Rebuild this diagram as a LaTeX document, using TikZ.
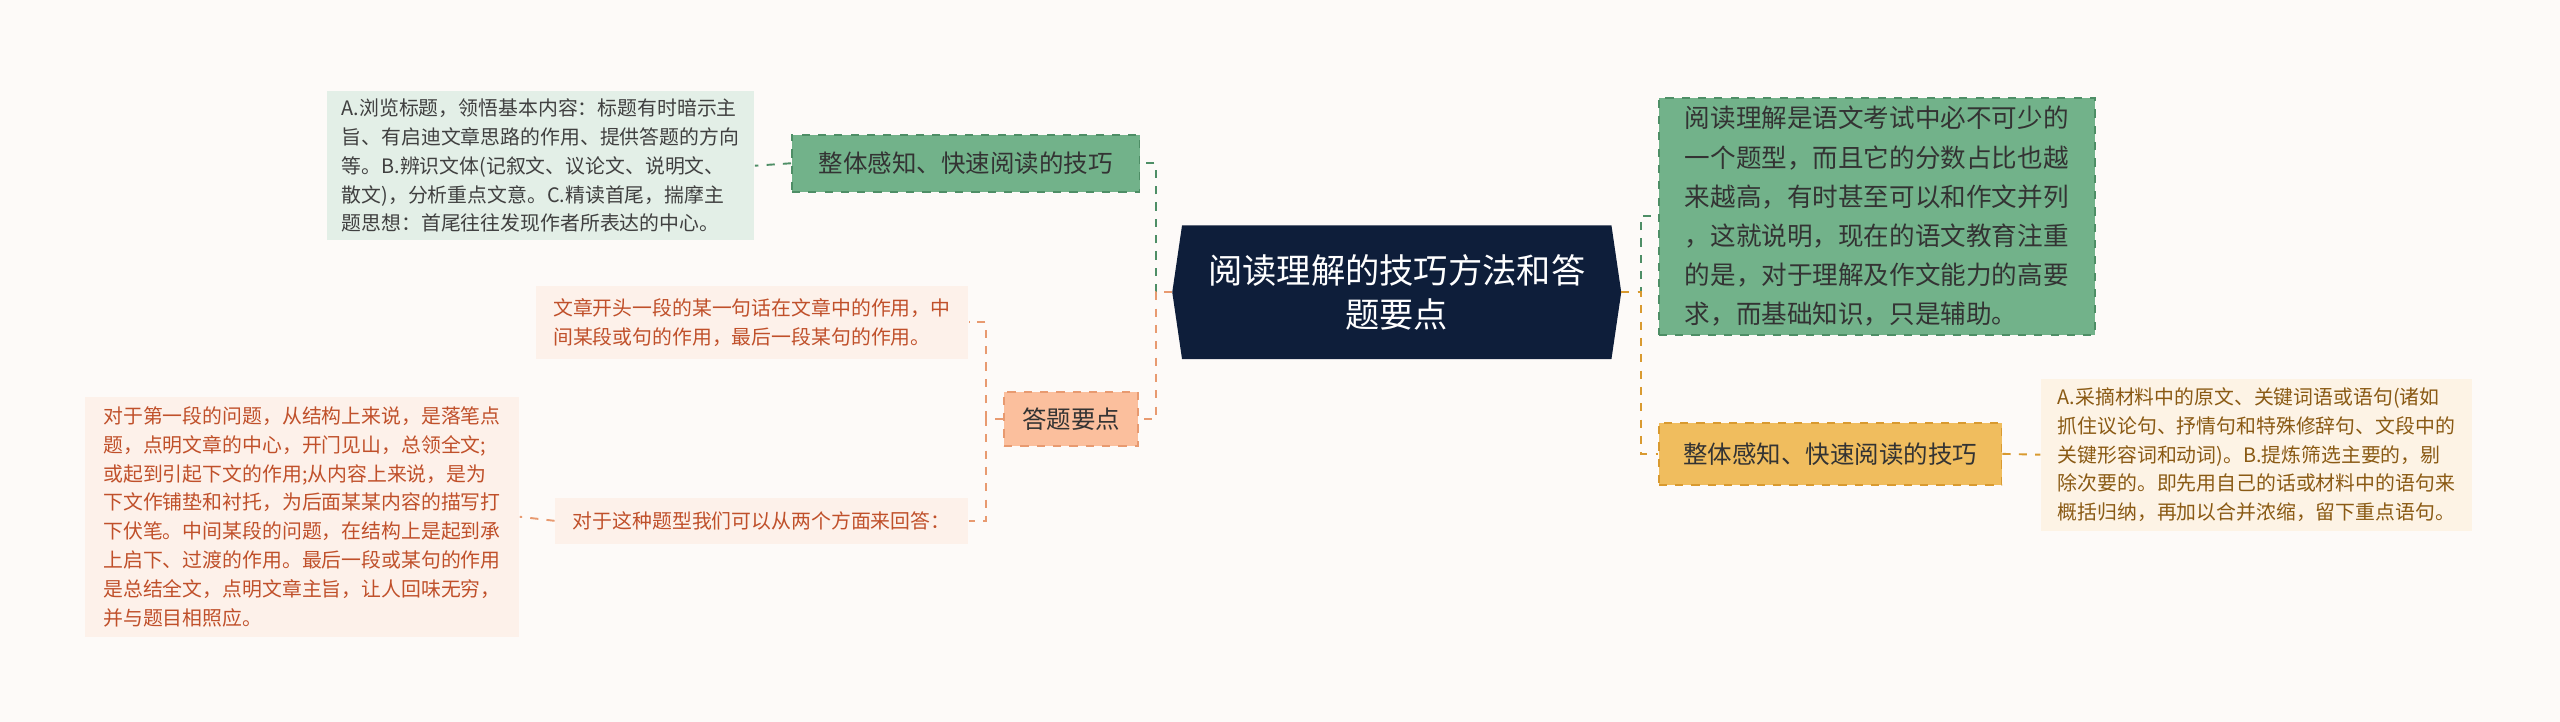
\documentclass[tikz,border=0pt]{standalone}
\usepackage{fontspec}
\setmainfont{Noto Sans CJK SC}
\usetikzlibrary{shapes.geometric}
\definecolor{bg}{HTML}{FDFAF8}
\definecolor{navy}{HTML}{0E1E3A}
\definecolor{grn}{HTML}{72B28A}
\definecolor{grnd}{HTML}{4E8E66}
\definecolor{grnl}{HTML}{E3EFE7}
\definecolor{org}{HTML}{F0BD5E}
\definecolor{orgd}{HTML}{D99A30}
\definecolor{orgl}{HTML}{FDF3E5}
\definecolor{sal}{HTML}{FBBF9D}
\definecolor{sald}{HTML}{E89A70}
\definecolor{sall}{HTML}{FDF1EA}
\definecolor{redt}{HTML}{C0502A}
\definecolor{brnt}{HTML}{8A5A14}
\begin{document}
\begin{tikzpicture}[x=0.6pt,y=-0.6pt,
  base/.style={inner sep=0pt,align=left,font=\fontsize{7.3pt}{10.6pt}\selectfont},
  mid/.style={base,font=\fontsize{9pt}{11pt}\selectfont,draw,dashed,line width=0.6pt},
  leafg/.style={base,fill=grnl,text=black!75},
  leafr/.style={base,fill=sall,text=redt},
  leafo/.style={base,fill=orgl,text=brnt},
  con/.style={dashed,line width=0.7pt}]
\fill[bg] (0,0) rectangle (1568,442);
\useasboundingbox (0,0) rectangle (1568,442);
% center
\fill[navy] (718,179) -- (724,138) -- (987,138) -- (993,179) -- (987,220) -- (724,220) -- cycle;
\node[font=\fontsize{12.6pt}{16pt}\selectfont,text=white,align=center] (c) at (855.5,179) {阅读理解的技巧方法和答\\题要点};
\coordinate (cl) at (718,179); \coordinate (cr) at (993,179);
% right
\node[mid,fill=grn,draw=grnd,minimum width=267*0.6pt,minimum height=145*0.6pt,font=\fontsize{9.4pt}{14.4pt}\selectfont,text=black!80] (rg) at (1149.5,132.5) {阅读理解是语文考试中必不可少的\\一个题型，而且它的分数占比也越\\来越高，有时甚至可以和作文并列\\，这就说明，现在的语文教育注重\\的是，对于理解及作文能力的高要\\求，而基础知识，只是辅助。};
\node[mid,fill=org,draw=orgd,minimum width=210*0.6pt,minimum height=38*0.6pt,text=black!80] (ro) at (1121,278) {整体感知、快速阅读的技巧};
\node[leafo,minimum width=264*0.6pt,minimum height=93*0.6pt] (rol) at (1382,278.5) {A.采摘材料中的原文、关键词语或语句(诸如\\抓住议论句、抒情句和特殊修辞句、文段中的\\关键形容词和动词)。B.提炼筛选主要的，剔\\除次要的。即先用自己的话或材料中的语句来\\概括归纳，再加以合并浓缩，留下重点语句。};
% left
\node[mid,fill=grn,draw=grnd,minimum width=213*0.6pt,minimum height=35*0.6pt,text=black!80] (lg) at (591.5,100) {整体感知、快速阅读的技巧};
\node[leafg,minimum width=262*0.6pt,minimum height=91*0.6pt] (lgl) at (331,101.5) {A.浏览标题，领悟基本内容：标题有时暗示主\\旨、有启迪文章思路的作用、提供答题的方向\\等。B.辨识文体(记叙文、议论文、说明文、\\散文)，分析重点文意。C.精读首尾，揣摩主\\题思想：首尾往往发现作者所表达的中心。};
\node[mid,fill=sal,draw=sald,minimum width=82*0.6pt,minimum height=33*0.6pt,text=black!80] (ld) at (656,256.5) {答题要点};
\node[leafr,minimum width=265*0.6pt,minimum height=45*0.6pt] (l1) at (460.5,197.5) {文章开头一段的某一句话在文章中的作用，中\\间某段或句的作用，最后一段某句的作用。};
\node[leafr,minimum width=253*0.6pt,minimum height=28*0.6pt] (l2) at (466.5,319) {对于这种题型我们可以从两个方面来回答：};
\node[leafr,minimum width=266*0.6pt,minimum height=147*0.6pt] (l3) at (185,316.5) {对于第一段的问题，从结构上来说，是落笔点\\题，点明文章的中心，开门见山，总领全文;\\或起到引起下文的作用;从内容上来说，是为\\下文作铺垫和衬托，为后面某某内容的描写打\\下伏笔。中间某段的问题，在结构上是起到承\\上启下、过渡的作用。最后一段或某句的作用\\是总结全文，点明文章主旨，让人回味无穷，\\并与题目相照应。};
% connectors
\draw[con,grnd] (cl) -- (708,179) |- (lg.east);
\draw[con,sald] (cl) -- (708,179) |- (ld.east);
\draw[con,grnd] (cr) -- (1005,179) |- (rg.west);
\draw[con,orgd] (cr) -- (1005,179) |- (ro.west);
\draw[con,grnd] (lg.west) -- (lgl.east);
\draw[con,orgd] (ro.east) -- (rol.west);
\draw[con,sald] (ld.west) -- (604,256.5) |- (l1.east);
\draw[con,sald] (ld.west) -- (604,256.5) |- (l2.east);
\draw[con,sald] (l2.west) -- (l3.east);
\end{tikzpicture}
\end{document}
